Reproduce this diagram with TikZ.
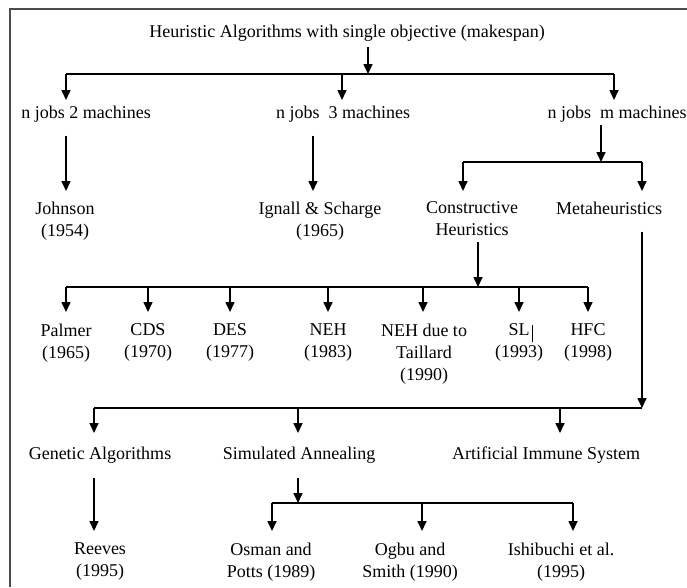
\documentclass[tikz,border=0pt]{standalone}
\usepackage{fontspec}
\setmainfont{Liberation Serif}
\usetikzlibrary{arrows.meta}
\begin{document}
\begin{tikzpicture}[x=1pt,y=-1pt,
  lbl/.style={font=\fontsize{18}{22}\selectfont, inner sep=0pt, outer sep=0pt,
              anchor=north, align=center, execute at begin node=\strut},
  arr/.style={-{Triangle[width=9pt,length=10pt]}, line width=1.6pt},
  ln/.style={line width=1.2pt},
  frame/.style={line width=1.2pt, black!70}]
\useasboundingbox (0,0) rectangle (687,587);
% frame (open at right and bottom)
\draw[frame] (687,9) -- (10,9) -- (10,587);

% nodes
\node[lbl] (title) at (347,21.6) {Heuristic Algorithms with single objective (makespan)};
\node[lbl] (n2) at (86,102.6) {n jobs 2 machines};
\node[lbl] (n3) at (343,102.6) {n jobs~ 3 machines};
\node[lbl] (nm) at (617,102.6) {n jobs~ m machines};

\node[lbl] (john) at (65,201.6) {Johnson\\(1954)};
\node[lbl] (ignall) at (320,201.6) {Ignall \& Scharge\\(1965)};
\node[lbl] (cons) at (472,201.6) {Constructive\\Heuristics};
\node[lbl] (meta) at (609,198.6) {Metaheuristics};

\node[lbl] (palmer) at (66,323.6) {Palmer\\(1965)};
\node[lbl] (cds) at (148,323.6) {CDS\\(1970)};
\node[lbl] (des) at (230,323.6) {DES\\(1977)};
\node[lbl] (neh) at (328,323.6) {NEH\\(1983)};
\node[lbl] (nehT) at (424,323.6) {NEH due to\\Taillard\\(1990)};
\node[lbl] (sl) at (519,323.6) {SL\\(1993)};
\node[lbl] (hfc) at (588,323.6) {HFC\\(1998)};

\node[lbl] (ga) at (100,443.6) {Genetic Algorithms};
\node[lbl] (sa) at (299,443.6) {Simulated Annealing};
\node[lbl] (ais) at (546,443.6) {Artificial Immune System};

\node[lbl] (reeves) at (100,542.6) {Reeves\\(1995)};
\node[lbl] (osman) at (271,542.6) {Osman and\\Potts (1989)};
\node[lbl] (ogbu) at (410,542.6) {Ogbu and\\Smith (1990)};
\node[lbl] (ishi) at (561,542.6) {Ishibuchi et al.\\(1995)};

% stray cursor mark after SL
\draw[line width=0.6pt] (532,325) -- (532,342);

% junction coordinates
\coordinate (c0) at (368,74);
\coordinate (b1a) at (66,74);
\coordinate (b1b) at (342,74);
\coordinate (b1c) at (614,74);
\coordinate (k2) at (313,136);

\coordinate (c2) at (601,162);
\coordinate (b2a) at (463,162);
\coordinate (b2b) at (642,162);

\coordinate (c3) at (478,287);
\coordinate (b3a) at (66,287);
\coordinate (b3b) at (148,287);
\coordinate (b3c) at (230,287);
\coordinate (b3d) at (328,287);
\coordinate (b3e) at (423,287);
\coordinate (b3f) at (519,287);
\coordinate (b3g) at (588,287);

\coordinate (c4) at (642,408);
\coordinate (b4a) at (94,408);
\coordinate (b4b) at (298,408);
\coordinate (b4c) at (560,408);

\coordinate (c5) at (298,503);
\coordinate (b5a) at (272,503);
\coordinate (b5b) at (422,503);
\coordinate (b5c) at (573,503);

% level 0 -> 1
\draw[arr, shorten <=3pt] (title.south -| c0) -- (c0);
\draw[ln] (b1a) -- (b1c);
\draw[arr, shorten >=2.6pt] (b1a) -- (b1a |- n2.north);
\draw[arr, shorten >=2.6pt] (b1b) -- (b1b |- n3.north);
\draw[arr, shorten >=2.6pt] (b1c) -- (b1c |- nm.north);

% level 1 -> 2
\draw[arr, shorten <=11pt, shorten >=10.6pt] (n2.south -| b1a) -- (b1a |- john.north);
\draw[arr, shorten <=11pt, shorten >=10.6pt] (n3.south -| k2) -- (k2 |- ignall.north);
\draw[arr] (nm.south -| c2) -- (c2);
\draw[ln] (b2a) -- (b2b);
\draw[arr, shorten >=10.6pt] (b2a) -- (b2a |- cons.north);
\draw[arr, shorten >=7.6pt] (b2b) -- (b2b |- meta.north);

% constructive heuristics
\draw[arr] (cons.south -| c3) -- (c3);
\draw[ln] (b3a) -- (b3g);
\draw[arr, shorten >=11.6pt] (b3a) -- (b3a |- palmer.north);
\draw[arr, shorten >=11.6pt] (b3b) -- (b3b |- cds.north);
\draw[arr, shorten >=11.6pt] (b3c) -- (b3c |- des.north);
\draw[arr, shorten >=11.6pt] (b3d) -- (b3d |- neh.north);
\draw[arr, shorten >=11.6pt] (b3e) -- (b3e |- nehT.north);
\draw[arr, shorten >=11.6pt] (b3f) -- (b3f |- sl.north);
\draw[arr, shorten >=11.6pt] (b3g) -- (b3g |- hfc.north);

% metaheuristics
\draw[arr, shorten <=11pt] (meta.south -| c4) -- (c4);
\draw[ln] (b4a) -- (c4);
\draw[arr, shorten >=10.6pt] (b4a) -- (b4a |- ga.north);
\draw[arr, shorten >=10.6pt] (b4b) -- (b4b |- sa.north);
\draw[arr, shorten >=10.6pt] (b4c) -- (b4c |- ais.north);

% level 4 -> 5
\draw[arr, shorten <=12pt, shorten >=11.6pt] (ga.south -| b4a) -- (b4a |- reeves.north);
\draw[arr, shorten <=12pt] (sa.south -| c5) -- (c5);
\draw[ln] (b5a) -- (b5c);
\draw[arr, shorten >=11.6pt] (b5a) -- (b5a |- osman.north);
\draw[arr, shorten >=11.6pt] (b5b) -- (b5b |- ogbu.north);
\draw[arr, shorten >=11.6pt] (b5c) -- (b5c |- ishi.north);
\end{tikzpicture}
\end{document}
